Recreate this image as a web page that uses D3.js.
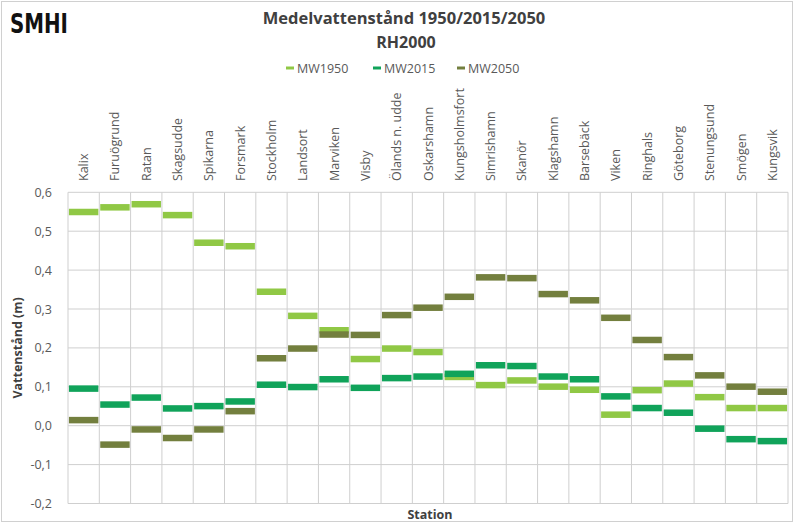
<!DOCTYPE html>
<html><head><meta charset="utf-8">
<script src="https://cdn.jsdelivr.net/npm/d3@7"></script>
<style>body{margin:0;background:#fff}svg{display:block}</style>
</head><body>
<svg id="c" width="795" height="524"></svg>
<script>
const stations = ["Kalix","Furuögrund","Ratan","Skagsudde","Spikarna","Forsmark","Stockholm","Landsort","Marviken","Visby","Ölands n. udde","Oskarshamn","Kungsholmsfort","Simrishamn","Skanör","Klagshamn","Barsebäck","Viken","Ringhals","Göteborg","Stenungsund","Smögen","Kungsvik"];
const mw1950 = [0.550,0.562,0.570,0.542,0.471,0.462,0.345,0.283,0.246,0.172,0.199,0.190,0.126,0.105,0.117,0.101,0.093,0.029,0.092,0.109,0.074,0.046,0.046];
const mw2015 = [0.096,0.055,0.073,0.045,0.051,0.063,0.106,0.100,0.120,0.098,0.123,0.127,0.134,0.156,0.154,0.127,0.120,0.076,0.046,0.034,-0.007,-0.034,-0.039];
const mw2050 = [0.015,-0.048,-0.009,-0.031,-0.009,0.038,0.174,0.199,0.235,0.234,0.285,0.304,0.332,0.382,0.380,0.339,0.323,0.278,0.221,0.177,0.130,0.101,0.088];
const yTicks = [-0.2,-0.1,0.0,0.1,0.2,0.3,0.4,0.5,0.6];
const seriesNames = ["MW1950","MW2015","MW2050"];
const colors = {MW1950:"#90c845", MW2015:"#10a35a", MW2050:"#737f3e"};

(function(){
const svg = d3.select("#c");
const font = "'Open Sans', sans-serif";

svg.append("rect").attr("x",1.5).attr("y",1.5).attr("width",791).attr("height",520)
  .attr("fill","none").attr("stroke","#d0d0d0");

svg.append("text").attr("x",10).attr("y",33).text("SMHI")
  .attr("font-family","'DejaVu Sans Condensed','Liberation Sans Narrow',sans-serif")
  .attr("font-weight","bold").attr("font-size",27).attr("fill","#111")
  .attr("textLength",58).attr("lengthAdjust","spacingAndGlyphs");

svg.append("text").attr("x",404).attr("y",24).attr("text-anchor","middle")
  .attr("font-family",font).attr("font-weight","bold").attr("font-size",16.5).attr("fill","#404040")
  .text("Medelvattenstånd 1950/2015/2050");
svg.append("text").attr("x",406).attr("y",48).attr("text-anchor","middle")
  .attr("font-family",font).attr("font-weight","bold").attr("font-size",16).attr("fill","#404040")
  .text("RH2000");

const legX = [286, 373, 457];
seriesNames.forEach((s,i)=>{
  const g = svg.append("g").attr("transform",`translate(${legX[i]},68)`);
  g.append("line").attr("x1",0).attr("x2",8).attr("y1",0).attr("y2",0)
    .attr("stroke",colors[s]).attr("stroke-width",3);
  g.append("text").attr("x",11).attr("y",4.5).attr("font-family",font).attr("font-size",12.5)
    .attr("fill","#595959").text(s);
});

const pl = 68, pr = 788, pt = 192.3, pb = 503.5;
const x = d3.scaleBand().domain(stations).range([pl,pr]).paddingInner(0.06).paddingOuter(0.03);
const xb = d3.scaleBand().domain(stations).range([pl,pr]);
const y = d3.scaleLinear().domain([-0.2,0.6]).range([pb,pt]);

svg.append("g").selectAll("line").data(yTicks).join("line")
  .attr("x1",pl).attr("x2",pr).attr("y1",d=>y(d)).attr("y2",d=>y(d))
  .attr("stroke","#cfcfcf").attr("stroke-width",1);
const bounds = stations.map(s=>xb(s)).concat([pr]);
svg.append("g").selectAll("line").data(bounds).join("line")
  .attr("x1",d=>d).attr("x2",d=>d).attr("y1",pt).attr("y2",pb)
  .attr("stroke","#cfcfcf").attr("stroke-width",1);

const yAxis = d3.axisLeft(y).tickValues(yTicks).tickSize(0).tickPadding(16)
  .tickFormat(d=>d3.format(".1f")(d).replace(".",",").replace("−","-"));
const ya = svg.append("g").attr("transform",`translate(${pl},0)`).call(yAxis);
ya.select(".domain").remove();
ya.selectAll("text").attr("font-family",font).attr("font-size",12.5).attr("fill","#595959");

svg.append("g").selectAll("text").data(stations).join("text")
  .attr("transform",d=>`translate(${xb(d)+xb.bandwidth()/2+4.5},181) rotate(-90)`)
  .attr("font-family",font).attr("font-size",12.5).attr("fill","#595959")
  .text(d=>d);

svg.append("text").attr("transform",`translate(22,${(pt+pb)/2}) rotate(-90)`)
  .attr("text-anchor","middle").attr("font-family",font).attr("font-weight","bold")
  .attr("font-size",12.5).attr("fill","#404040").text("Vattenstånd (m)");
svg.append("text").attr("x",430).attr("y",519).attr("text-anchor","middle")
  .attr("font-family",font).attr("font-weight","bold").attr("font-size",12.5).attr("fill","#404040")
  .text("Station");

const data = {MW1950:mw1950, MW2015:mw2015, MW2050:mw2050};
["MW1950","MW2050","MW2015"].forEach(s=>{
  svg.append("g").selectAll("rect").data(stations.map((st,i)=>({st, v:data[s][i]}))).join("rect")
    .attr("x",d=>x(d.st)).attr("width",x.bandwidth())
    .attr("y",d=>y(d.v)-3).attr("height",6.5)
    .attr("fill",colors[s]);
});
})();
</script>
</body></html>
